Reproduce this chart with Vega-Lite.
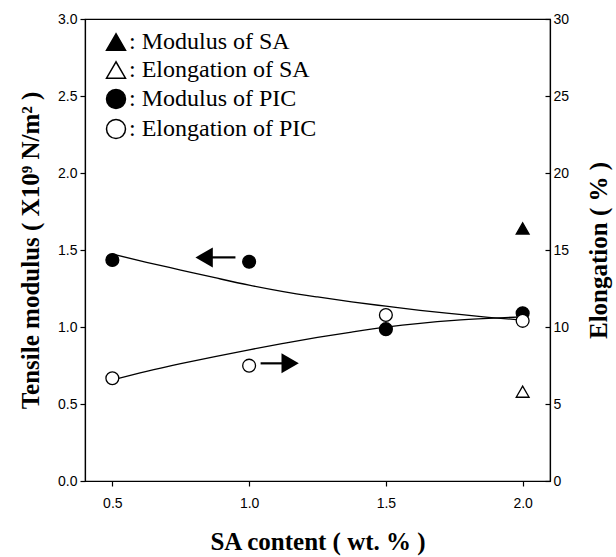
{
  "$schema": "https://vega.github.io/schema/vega-lite/v6.json",
  "width": 465,
  "height": 462,
  "autosize": "none",
  "padding": {"left": 85, "top": 19, "right": 66, "bottom": 76},
  "background": "white",
  "config": {
    "view": {"stroke": "black", "strokeWidth": 1.2},
    "axis": {
      "grid": false,
      "domainColor": "black",
      "domainWidth": 1.2,
      "tickColor": "black",
      "tickWidth": 1.2,
      "labelColor": "black",
      "labelFont": "Liberation Sans",
      "labelFontSize": 14,
      "titleFont": "Liberation Serif",
      "titleFontWeight": "bold",
      "titleFontSize": 25,
      "titleColor": "black"
    }
  },
  "datasets": {
    "points": [
      {"sa": 0.5, "modulus": 1.435, "series": "Modulus of PIC"},
      {"sa": 1.0, "modulus": 1.424, "series": "Modulus of PIC"},
      {"sa": 1.5, "modulus": 0.986, "series": "Modulus of PIC"},
      {"sa": 2.0, "modulus": 1.089, "series": "Modulus of PIC"},
      {"sa": 2.0, "modulus": 1.64, "series": "Modulus of SA"}
    ],
    "elpoints": [
      {"sa": 0.5, "elongation": 6.67, "series": "Elongation of PIC"},
      {"sa": 1.0, "elongation": 7.49, "series": "Elongation of PIC"},
      {"sa": 1.5, "elongation": 10.78, "series": "Elongation of PIC"},
      {"sa": 2.0, "elongation": 10.4, "series": "Elongation of PIC"},
      {"sa": 2.0, "elongation": 5.8, "series": "Elongation of SA"}
    ],
    "modfit": [
      {"sa": 0.5, "modulus": 1.474},
      {"sa": 0.625, "modulus": 1.42},
      {"sa": 0.75, "modulus": 1.37},
      {"sa": 0.875, "modulus": 1.32},
      {"sa": 1.0, "modulus": 1.272},
      {"sa": 1.125, "modulus": 1.23},
      {"sa": 1.25, "modulus": 1.195},
      {"sa": 1.375, "modulus": 1.163},
      {"sa": 1.5, "modulus": 1.135},
      {"sa": 1.625, "modulus": 1.108},
      {"sa": 1.75, "modulus": 1.085},
      {"sa": 1.875, "modulus": 1.063},
      {"sa": 2.0, "modulus": 1.045}
    ],
    "elfit": [
      {"sa": 0.5, "elongation": 6.56},
      {"sa": 0.625, "elongation": 7.12},
      {"sa": 0.75, "elongation": 7.62},
      {"sa": 0.875, "elongation": 8.08},
      {"sa": 1.0, "elongation": 8.52},
      {"sa": 1.125, "elongation": 8.93},
      {"sa": 1.25, "elongation": 9.32},
      {"sa": 1.375, "elongation": 9.67},
      {"sa": 1.5, "elongation": 9.99},
      {"sa": 1.625, "elongation": 10.24},
      {"sa": 1.75, "elongation": 10.43},
      {"sa": 1.875, "elongation": 10.56},
      {"sa": 2.0, "elongation": 10.66}
    ],
    "arrows": [
      {"from": 0.84, "to": 0.95, "head": 0.8355, "level": 1.452, "dir": "left"},
      {"from": 1.042, "to": 1.15, "head": 1.15, "level": 0.764, "dir": "right"}
    ]
  },
  "encoding": {
    "x": {
      "field": "sa",
      "type": "quantitative",
      "scale": {"domain": [0.4, 2.1], "nice": false, "zero": false},
      "axis": {
        "title": "SA content ( wt. % )",
        "values": [0.5, 1.0, 1.5, 2.0],
        "format": ".1f",
        "tickSize": 5,
        "labelPadding": 10,
        "titlePadding": 19
      }
    }
  },
  "layer": [
    {
      "encoding": {
        "y": {
          "type": "quantitative",
          "scale": {"domain": [0, 3], "nice": false},
          "axis": {
            "orient": "left",
            "title": "Tensile modulus ( X10⁹ N/m² )",
            "values": [0, 0.5, 1, 1.5, 2, 2.5, 3],
            "format": ".1f",
            "tickSize": 5,
            "labelPadding": 3,
            "titlePadding": 14
          }
        }
      },
      "layer": [
        {
          "data": {"name": "modfit"},
          "mark": {"type": "line", "color": "black", "strokeWidth": 1.3, "interpolate": "monotone"},
          "encoding": {"y": {"field": "modulus", "type": "quantitative"}}
        },
        {
          "data": {"name": "arrows"},
          "mark": {"type": "rule", "color": "black", "strokeWidth": 2.2},
          "encoding": {
            "x": {"field": "from", "type": "quantitative"},
            "x2": {"field": "to"},
            "y": {"field": "level", "type": "quantitative"}
          }
        },
        {
          "data": {"name": "arrows"},
          "transform": [{"filter": "datum.dir == 'left'"}],
          "mark": {"type": "point", "shape": "triangle-left", "filled": true, "color": "black", "size": 400, "opacity": 1},
          "encoding": {
            "x": {"field": "head", "type": "quantitative"},
            "y": {"field": "level", "type": "quantitative"}
          }
        },
        {
          "data": {"name": "arrows"},
          "transform": [{"filter": "datum.dir == 'right'"}],
          "mark": {"type": "point", "shape": "triangle-right", "filled": true, "color": "black", "size": 400, "opacity": 1},
          "encoding": {
            "x": {"field": "head", "type": "quantitative"},
            "y": {"field": "level", "type": "quantitative"}
          }
        },
        {
          "data": {"name": "points"},
          "mark": {"type": "point", "stroke": "black", "strokeWidth": 1.3, "size": 165, "opacity": 1},
          "encoding": {
            "y": {"field": "modulus", "type": "quantitative"},
            "shape": {
              "field": "series",
              "type": "nominal",
              "scale": {
                "domain": ["Modulus of SA", "Elongation of SA", "Modulus of PIC", "Elongation of PIC"],
                "range": ["triangle-up", "triangle-up", "circle", "circle"]
              },
              "legend": {
                "title": null,
                "orient": "none",
                "legendX": 19,
                "legendY": 11,
                "padding": 0,
                "symbolSize": 360,
                "labelFont": "Liberation Serif",
                "labelFontSize": 24,
                "labelColor": "black",
                "labelLimit": 400,
                "labelOffset": 1,
                "rowPadding": 4,
                "labelExpr": "': ' + datum.label",
                "encode": {
                  "symbols": {"update": {"stroke": {"value": "black"}, "strokeWidth": {"value": 1.4}, "opacity": {"value": 1}}},
                  "labels": {"update": {"font": {"value": "Liberation Serif"}, "fontSize": {"value": 24}}}
                }
              }
            },
            "fill": {
              "field": "series",
              "type": "nominal",
              "scale": {
                "domain": ["Modulus of SA", "Elongation of SA", "Modulus of PIC", "Elongation of PIC"],
                "range": ["black", "white", "black", "white"]
              },
              "legend": {
                "title": null,
                "orient": "none",
                "legendX": 19,
                "legendY": 11,
                "padding": 0,
                "symbolSize": 360,
                "labelFont": "Liberation Serif",
                "labelFontSize": 24,
                "labelColor": "black",
                "labelLimit": 400,
                "labelOffset": 1,
                "rowPadding": 4,
                "labelExpr": "': ' + datum.label",
                "encode": {
                  "symbols": {"update": {"stroke": {"value": "black"}, "strokeWidth": {"value": 1.4}, "opacity": {"value": 1}}},
                  "labels": {"update": {"font": {"value": "Liberation Serif"}, "fontSize": {"value": 24}}}
                }
              }
            }
          }
        }
      ]
    },
    {
      "encoding": {
        "y": {
          "type": "quantitative",
          "scale": {"domain": [0, 30], "nice": false},
          "axis": {
            "orient": "right",
            "title": "Elongation ( % )",
            "values": [0, 5, 10, 15, 20, 25, 30],
            "tickSize": -5,
            "labelPadding": 8,
            "titleAngle": 270,
            "titleBaseline": "top",
            "titlePadding": 18
          }
        }
      },
      "layer": [
        {
          "data": {"name": "elfit"},
          "mark": {"type": "line", "color": "black", "strokeWidth": 1.3, "interpolate": "monotone"},
          "encoding": {"y": {"field": "elongation", "type": "quantitative"}}
        },
        {
          "data": {"name": "elpoints"},
          "mark": {"type": "point", "stroke": "black", "strokeWidth": 1.3, "size": 165, "opacity": 1},
          "encoding": {
            "y": {"field": "elongation", "type": "quantitative"},
            "shape": {
              "field": "series",
              "type": "nominal",
              "scale": {
                "domain": ["Modulus of SA", "Elongation of SA", "Modulus of PIC", "Elongation of PIC"],
                "range": ["triangle-up", "triangle-up", "circle", "circle"]
              },
              "legend": null
            },
            "fill": {
              "field": "series",
              "type": "nominal",
              "scale": {
                "domain": ["Modulus of SA", "Elongation of SA", "Modulus of PIC", "Elongation of PIC"],
                "range": ["black", "white", "black", "white"]
              },
              "legend": null
            }
          }
        }
      ]
    }
  ],
  "resolve": {"scale": {"y": "independent"}}
}
